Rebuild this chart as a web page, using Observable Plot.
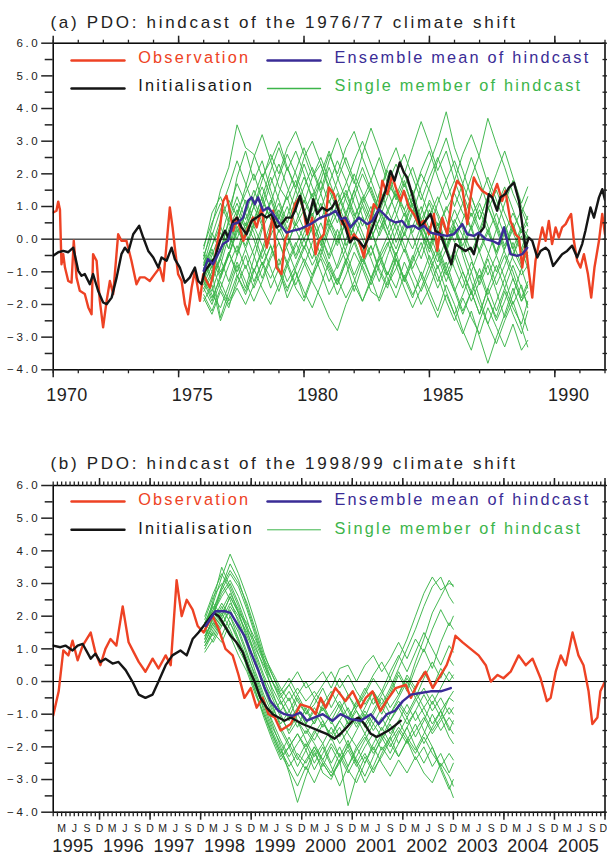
<!DOCTYPE html>
<html><head><meta charset="utf-8">
<script src="https://cdn.jsdelivr.net/npm/d3@7"></script>
<script src="https://cdn.jsdelivr.net/npm/@observablehq/plot@0.6"></script>
<style>
body{margin:0;background:#fff;}
#chart{width:607px;}
#chart svg{display:block;}
</style></head><body><div id="chart"></div>
<script>
// ---------------- DATA ----------------
const titleA = "(a) PDO: hindcast of the 1976/77 climate shift";
const titleB = "(b) PDO: hindcast of the 1998/99 climate shift";
const legendLabels = ["Observation", "Ensemble mean of hindcast", "Initialisation", "Single member of hindcast"];
const yMajor = [-4, -3, -2, -1, 0, 1, 2, 3, 4, 5, 6];
const yMinor = [-3.5, -2.5, -1.5, -0.5, 0.5, 1.5, 2.5, 3.5, 4.5, 5.5];
const yearsA = [1970,1971,1972,1973,1974,1975,1976,1977,1978,1979,1980,1981,1982,1983,1984,1985,1986,1987,1988,1989,1990,1991,1992];
const yearLabelsA = [1970, 1975, 1980, 1985, 1990];
const yearsB = [1995,1996,1997,1998,1999,2000,2001,2002,2003,2004,2005];
const monthLetters = ["M", "J", "S", "D"];
const monthLetterIdx = [2, 5, 8, 11];

// Panel (a): [decimal year, PDO index]
const obsA = [[1970.00,0.82],[1970.13,0.87],[1970.20,1.15],[1970.27,0.9],[1970.33,-0.77],[1970.40,-0.46],[1970.47,-0.87],[1970.60,-1.28],[1970.73,-1.33],[1970.82,-0.05],[1970.93,-1.17],[1971.06,-1.58],[1971.26,-1.68],[1971.40,-2.09],[1971.53,-2.3],[1971.59,-0.46],[1971.73,-0.66],[1971.86,-1.89],[1971.99,-2.7],[1972.13,-1.89],[1972.26,-1.28],[1972.39,-1.68],[1972.59,0.15],[1972.72,-0.05],[1972.92,-0.05],[1973.12,-0.66],[1973.32,-1.38],[1973.46,-1.17],[1973.65,-1.17],[1973.85,-1.28],[1974.05,-1.07],[1974.25,-0.87],[1974.39,-1.28],[1974.52,-0.15],[1974.65,0.97],[1974.76,0.36],[1974.85,-0.26],[1974.98,-1.07],[1975.12,-1.28],[1975.25,-1.99],[1975.38,-2.3],[1975.52,-1.48],[1975.65,-0.97],[1975.85,-1.89],[1975.98,-1.07],[1976.11,-1.28],[1976.25,-1.48],[1976.38,-1.07],[1976.51,-0.26],[1976.65,0.36],[1976.78,1.17],[1976.91,1.33],[1977.04,0.87],[1977.18,0.26],[1977.31,0.66],[1977.44,0.36],[1977.58,-0.05],[1977.78,0.36],[1977.97,0.66],[1978.11,0.36],[1978.31,0.97],[1978.51,-0.26],[1978.64,0.15],[1978.77,0.87],[1978.90,-0.87],[1979.10,-1.07],[1979.24,-0.05],[1979.44,0.36],[1979.64,1.07],[1979.84,1.3],[1979.99,0.87],[1980.13,0.15],[1980.33,0.66],[1980.46,-0.46],[1980.59,-0.05],[1980.79,0.15],[1980.99,1.58],[1981.19,1.38],[1981.39,0.87],[1981.52,0.46],[1981.65,0.66],[1981.85,-0.05],[1981.99,0.15],[1982.19,-0.05],[1982.39,-0.56],[1982.58,0.36],[1982.78,1.07],[1982.98,0.87],[1983.12,1.79],[1983.32,1.38],[1983.51,1.95],[1983.65,1.6],[1983.85,1.17],[1983.98,1.48],[1984.18,0.97],[1984.38,0.77],[1984.58,0.46],[1984.78,0.56],[1984.98,0.15],[1985.18,0.77],[1985.31,-0.36],[1985.51,0.66],[1985.71,0.15],[1985.91,1.28],[1986.11,1.79],[1986.31,1.58],[1986.51,0.46],[1986.64,1.28],[1986.77,1.89],[1986.90,1.69],[1987.10,1.48],[1987.30,1.38],[1987.50,1.28],[1987.70,1.69],[1987.90,1.17],[1988.03,1.48],[1988.23,0.56],[1988.43,0.15],[1988.57,0.05],[1988.70,-0.87],[1988.83,-0.15],[1988.96,-0.97],[1989.10,-1.79],[1989.23,-0.66],[1989.36,-0.15],[1989.50,0.36],[1989.63,-0.05],[1989.76,0.56],[1989.89,-0.15],[1990.03,0.36],[1990.16,0.05],[1990.29,0.36],[1990.43,0.46],[1990.56,0.66],[1990.65,0.77],[1990.76,-0.05],[1990.89,-0.66],[1991.02,-0.87],[1991.16,-0.46],[1991.32,-1.07],[1991.45,-1.79],[1991.58,-0.87],[1991.76,-0.05],[1991.89,0.77],[1992.0,0.15]];
const initA = [[1970.00,-0.51],[1970.20,-0.4],[1970.40,-0.36],[1970.60,-0.4],[1970.80,-0.26],[1971.00,-0.97],[1971.13,-1.12],[1971.26,-1.07],[1971.46,-1.38],[1971.59,-1.07],[1971.79,-1.58],[1971.99,-1.94],[1972.13,-1.99],[1972.33,-1.79],[1972.53,-1.17],[1972.72,-0.46],[1972.86,-0.26],[1972.99,-0.4],[1973.19,0.15],[1973.43,0.41],[1973.59,0.05],[1973.79,-0.36],[1973.99,-0.56],[1974.19,-0.87],[1974.32,-0.56],[1974.52,-0.66],[1974.72,-0.26],[1974.85,-0.61],[1975.05,-0.87],[1975.25,-1.33],[1975.45,-1.17],[1975.65,-0.87],[1975.78,-1.28],[1975.91,-1.38],[1976.05,-0.97],[1976.25,-0.77],[1976.45,-0.56],[1976.65,-0.05],[1976.85,0.26],[1976.98,0.05],[1977.18,0.56],[1977.34,0.66],[1977.51,0.36],[1977.71,0.15],[1977.91,0.56],[1978.11,0.66],[1978.31,0.77],[1978.51,0.66],[1978.71,0.77],[1978.90,0.36],[1979.10,0.46],[1979.30,0.66],[1979.50,0.66],[1979.64,0.87],[1979.84,1.33],[1979.99,0.87],[1980.13,0.46],[1980.37,1.22],[1980.52,0.77],[1980.72,0.97],[1980.92,0.87],[1981.12,0.97],[1981.26,1.17],[1981.46,0.66],[1981.65,0.36],[1981.83,-0.1],[1981.99,0.05],[1982.19,-0.05],[1982.39,-0.26],[1982.58,0.05],[1982.78,0.46],[1983.05,1.07],[1983.25,1.48],[1983.45,2.09],[1983.61,1.79],[1983.82,2.35],[1983.98,2.04],[1984.11,1.89],[1984.31,1.38],[1984.51,0.77],[1984.65,0.36],[1984.84,0.56],[1985.04,0.77],[1985.24,0.26],[1985.44,0.15],[1985.64,-0.26],[1985.87,-0.77],[1986.04,-0.15],[1986.24,-0.26],[1986.44,-0.36],[1986.64,-0.26],[1986.77,-0.46],[1986.97,0.15],[1987.17,0.36],[1987.37,1.38],[1987.50,1.28],[1987.70,0.87],[1987.83,1.28],[1988.03,1.38],[1988.17,1.58],[1988.37,1.73],[1988.57,1.17],[1988.70,0.46],[1988.83,-0.26],[1988.96,0.05],[1989.10,-0.05],[1989.30,-0.56],[1989.43,-0.36],[1989.63,-0.26],[1989.76,-0.36],[1989.93,-0.82],[1990.09,-0.66],[1990.29,-0.46],[1990.49,-0.36],[1990.69,-0.2],[1990.89,-0.56],[1991.09,-0.15],[1991.22,0.26],[1991.42,0.97],[1991.56,0.66],[1991.76,1.28],[1991.89,1.53],[1992.0,1.2]];
const meanA = [[1976.00,-0.97],[1976.17,-0.61],[1976.37,-0.77],[1976.57,-0.46],[1976.77,-0.15],[1976.97,-0.05],[1977.17,0.46],[1977.37,0.51],[1977.57,0.66],[1977.77,1.17],[1977.91,1.28],[1978.04,1.07],[1978.17,1.28],[1978.37,0.87],[1978.57,0.97],[1978.77,0.77],[1979.04,0.46],[1979.30,0.2],[1979.57,0.26],[1979.84,0.31],[1980.26,0.46],[1980.66,0.66],[1981.06,0.77],[1981.26,0.87],[1981.46,0.61],[1981.65,0.66],[1981.85,0.36],[1982.19,0.66],[1982.52,0.46],[1982.72,0.56],[1982.98,0.92],[1983.18,0.77],[1983.38,0.61],[1983.65,0.51],[1983.91,0.56],[1984.11,0.36],[1984.38,0.41],[1984.58,0.31],[1984.78,0.41],[1985.04,0.2],[1985.31,0.15],[1985.71,0.1],[1985.97,0.15],[1986.31,0.46],[1986.51,0.15],[1986.77,0.1],[1986.97,0.2],[1987.24,0.0],[1987.50,-0.05],[1987.77,-0.15],[1987.97,0.36],[1988.23,-0.46],[1988.50,-0.51],[1988.70,-0.46],[1988.90,-0.26]];
const memberTimesA = [1976.0,1976.33,1976.67,1977.0,1977.33,1977.67,1978.0,1978.33,1978.67,1979.0,1979.33,1979.67,1980.0,1980.33,1980.67,1981.0,1981.33,1981.67,1982.0,1982.33,1982.67,1983.0,1983.33,1983.67,1984.0,1984.33,1984.67,1985.0,1985.33,1985.67,1986.0,1986.33,1986.67,1987.0,1987.33,1987.67,1988.0,1988.33,1988.67,1988.92];
const membersA = [
 [-0.6,0.4,1.5,2.2,3.5,2.8,2.6,1.9,2.4,1.6,1.2,1.8,1.1,1.9,2.3,1.6,1.0,1.4,0.7,1.2,1.8,2.5,1.7,1.3,0.9,1.5,0.6,1.1,0.4,0.9,1.4,0.8,0.3,0.9,0.2,-0.4,0.3,-0.6,-1.1,-0.8],
 [-1.8,-2.3,-1.6,-2.1,-1.2,-0.5,-1.3,-0.7,-1.5,-0.9,-1.8,-1.2,-0.6,-1.1,-0.3,-0.9,-1.4,-0.7,-1.6,-0.8,-0.2,-1.0,-1.5,-0.6,-1.2,-1.8,-1.0,-1.6,-2.2,-1.4,-2.0,-2.8,-3.4,-2.5,-1.8,-2.4,-1.6,-2.3,-2.9,-2.2],
 [-1.2,-0.5,0.2,-0.3,0.8,1.4,2.0,1.2,0.6,1.1,0.3,0.9,1.6,2.2,1.5,2.4,3.1,2.3,1.7,2.6,3.4,2.7,1.9,1.2,1.8,1.0,0.4,1.2,0.7,-0.2,0.5,1.1,0.3,-0.4,0.2,0.8,0.1,-0.5,0.3,0.0],
 [-0.3,0.8,1.3,0.6,1.9,2.7,1.8,2.4,1.5,0.7,1.3,0.4,0.9,0.2,-0.5,0.3,0.8,-0.2,0.4,1.1,0.5,1.4,2.1,1.3,2.0,2.8,3.6,2.9,2.1,2.7,1.8,1.1,1.9,2.6,3.7,2.9,2.2,1.4,0.8,1.3],
 [-1.0,-1.6,-0.8,0.1,-0.4,0.5,0.0,-0.8,-0.2,-1.0,-1.6,-0.9,-0.3,0.4,-0.2,0.6,0.1,-0.7,0.2,-0.4,0.3,-0.5,-1.1,-0.4,-1.3,-0.6,0.2,-0.3,0.5,-0.2,-0.9,-1.5,-0.7,-1.2,-0.5,0.3,-0.4,-1.0,-1.8,-1.3],
 [-1.5,-1.0,-2.4,-1.6,-0.8,-1.5,-0.6,0.3,0.9,0.2,0.7,1.5,0.8,1.4,0.6,1.2,0.5,1.3,2.0,1.4,0.8,0.1,0.7,-0.1,0.5,1.2,0.6,-0.2,-0.9,-0.3,0.4,-0.5,-1.3,-2.0,-2.6,-1.9,-1.2,-2.0,-1.4,-2.1],
 [-0.8,-0.2,0.6,1.2,0.7,1.6,2.5,3.2,2.4,3.0,2.2,1.5,2.3,1.6,0.9,1.7,2.4,1.8,1.1,0.4,1.0,0.3,0.8,1.5,0.9,0.2,0.8,1.6,2.4,3.1,2.2,1.4,0.7,1.2,1.9,1.2,0.5,-0.3,0.4,0.1],
 [-1.3,-1.9,-1.1,-0.4,-1.0,-0.3,0.4,-0.2,-0.9,-1.6,-0.8,-1.5,-1.9,-1.2,-0.5,-1.0,-1.7,-1.1,-0.4,-0.9,-1.6,-1.8,-1.0,-1.5,-0.7,-1.3,-2.0,-1.5,-0.8,-1.6,-2.3,-1.7,-1.0,-1.8,-2.6,-3.2,-2.5,-1.9,-2.7,-3.3],
 [-0.9,-0.3,-1.0,-0.5,0.3,-0.2,0.5,1.3,0.6,1.4,2.2,1.6,2.5,3.0,2.3,1.5,0.9,1.5,0.8,0.2,-0.5,0.2,0.9,0.3,-0.4,0.4,1.0,0.3,1.1,1.8,1.0,1.7,2.5,1.8,1.0,0.3,1.1,1.8,1.0,0.6],
 [-1.6,-1.1,-0.6,-1.3,-0.5,0.2,-0.5,-1.2,-0.5,0.3,-0.3,-1.0,-1.8,-1.1,-0.6,-1.3,-0.8,0.0,0.6,0.0,-0.6,-1.3,-0.5,0.2,0.8,0.1,-0.6,0.2,-0.5,-1.3,-0.6,0.1,-0.6,-1.4,-0.8,-1.6,-2.4,-1.7,-0.9,-1.5],
 [-0.5,0.2,-0.4,0.6,1.3,0.6,1.2,0.5,1.1,1.9,2.6,2.0,1.3,0.7,1.4,0.6,-0.1,0.5,1.3,2.0,1.4,0.8,0.1,0.7,1.5,0.8,1.6,2.3,3.0,3.9,2.8,2.1,1.3,0.6,1.3,2.0,2.7,1.9,1.1,1.6],
 [-1.1,-1.7,-2.1,-1.4,-0.7,-1.3,-1.9,-1.3,-0.6,-0.1,-0.8,-0.2,0.4,-0.3,-1.0,-1.7,-1.2,-1.8,-1.3,-0.6,-1.2,-0.5,0.1,-0.6,-1.2,-0.5,-1.1,-1.8,-2.4,-1.7,-2.3,-2.9,-2.2,-3.0,-3.8,-3.0,-2.3,-1.5,-2.2,-2.8],
 [-0.7,-1.3,-0.6,0.3,0.9,0.3,1.0,1.6,0.9,0.4,1.0,0.3,-0.3,0.4,1.1,0.4,1.1,0.5,0.0,0.7,0.0,0.6,0.1,-0.5,0.2,-0.3,0.4,-0.1,-0.7,0.0,0.6,0.1,0.8,0.2,-0.4,-1.0,-0.3,0.4,-0.3,-0.9],
 [-1.4,-0.8,-1.5,-2.0,-1.5,-2.0,-1.4,-0.7,-1.2,-0.6,-1.3,-0.8,-0.2,-0.8,-0.3,0.4,-0.2,0.6,0.0,-0.7,-0.2,-0.9,-1.4,-0.9,-0.3,-1.0,-1.6,-1.0,-0.4,-1.1,-0.5,-1.2,-1.9,-1.3,-0.6,-1.4,-0.8,-0.1,-0.8,-0.4],
 [-0.2,0.5,1.1,0.5,0.0,0.8,1.5,0.9,1.7,2.3,1.6,0.9,0.3,0.9,1.8,2.6,2.0,2.8,3.3,2.5,1.8,1.1,1.7,2.3,1.6,2.2,1.4,0.7,1.3,0.6,-0.1,0.6,1.3,0.6,1.3,0.5,-0.2,0.5,-0.3,0.3],
 [-1.9,-1.4,-2.5,-1.8,-1.1,-1.6,-0.9,-1.5,-2.0,-1.4,-0.7,-0.1,-0.7,-1.3,-1.8,-2.4,-2.8,-2.0,-1.4,-1.9,-1.2,-0.6,-1.2,-1.8,-1.1,-1.7,-1.2,-0.5,-1.1,-1.9,-2.5,-1.8,-2.4,-2.9,-2.1,-2.7,-3.3,-2.6,-3.4,-3.1],
 [-0.4,-0.9,0.0,0.9,1.7,1.1,0.4,1.1,1.9,1.2,0.5,1.2,1.9,1.3,2.0,2.7,1.9,1.2,0.6,1.3,0.6,1.4,2.2,2.8,2.0,1.3,2.1,2.7,1.9,1.2,1.8,2.6,3.2,2.5,1.7,1.0,1.6,0.9,0.2,0.7],
 [-1.0,-0.4,-1.1,-0.5,0.4,-0.3,-1.0,-0.4,0.3,0.9,0.2,-0.5,0.2,0.8,0.1,-0.6,0.0,0.8,0.2,-0.4,0.4,1.0,0.3,-0.3,0.4,1.1,0.5,-0.2,0.5,-0.3,0.4,-0.3,-1.0,-0.3,0.3,-0.5,-1.2,-0.5,0.1,-0.5],
 [-0.6,-1.2,-0.5,0.2,-0.5,0.3,1.0,0.4,1.2,0.5,-0.2,0.5,1.2,0.6,-0.1,0.7,1.4,0.7,1.5,2.2,1.5,0.8,1.5,0.8,0.1,0.8,0.2,0.9,0.3,-0.4,0.3,-0.4,0.4,1.1,0.4,-0.4,0.4,-0.3,-0.9,-0.2],
 [-1.7,-2.2,-1.5,-0.8,-0.2,-0.9,-0.3,0.4,-0.2,-0.8,-0.2,0.5,0.0,-0.6,0.1,-0.5,0.3,-0.4,-1.1,-0.5,-1.2,-1.9,-1.3,-0.6,-1.3,-0.7,-0.1,-0.8,-1.5,-0.9,-1.6,-2.3,-1.6,-2.3,-1.5,-2.2,-1.5,-0.8,-1.5,-2.0],
 [-0.8,0.1,0.9,1.6,2.4,1.7,1.0,1.8,2.6,2.0,2.8,3.3,2.6,1.9,2.5,1.8,1.1,1.7,2.4,3.0,2.3,1.6,0.9,1.4,0.7,1.3,2.0,1.5,0.8,0.2,0.9,0.3,-0.4,0.2,0.9,1.5,0.8,0.2,-0.4,0.1],
 [-1.3,-0.6,-1.2,-0.4,-1.1,-1.7,-1.0,-0.3,0.5,-0.1,-0.7,-1.4,-0.8,-0.1,0.5,-0.2,-0.9,-0.3,0.4,1.0,0.3,-0.4,-1.1,-0.5,0.2,0.9,0.2,-0.6,-1.3,-0.7,-1.5,-2.2,-1.6,-0.9,-1.7,-1.1,-0.5,-1.2,-1.9,-1.4],
 [-0.5,-1.0,-0.3,0.5,1.1,0.4,1.3,2.0,1.3,0.6,1.4,2.1,2.8,2.1,1.4,2.2,1.5,0.8,1.5,0.7,0.0,0.6,1.3,2.0,2.6,1.9,1.2,1.9,2.5,1.8,2.4,1.7,1.0,0.3,1.0,0.4,-0.3,0.3,0.9,0.4],
 [-1.2,-1.8,-1.2,-0.5,0.2,0.8,0.2,-0.6,0.1,0.7,0.1,-0.6,0.0,0.6,-0.1,-0.8,-1.4,-0.7,-0.1,-0.8,-1.4,-0.8,-0.2,0.5,-0.2,-0.9,-0.3,0.4,-0.3,-1.0,-1.6,-1.0,-1.6,-2.3,-1.5,-0.8,-1.5,-2.1,-2.6,-1.9],
 [-0.9,-0.2,0.4,-0.3,0.5,1.2,0.6,1.3,2.1,2.8,2.1,2.7,2.0,1.2,1.8,1.1,1.8,2.5,1.8,1.1,1.6,0.9,0.3,1.0,1.7,1.0,0.3,-0.4,0.3,1.0,0.4,-0.2,0.4,-0.4,-1.1,-0.5,0.2,0.8,0.2,0.5],
 [-1.5,-2.0,-1.3,-1.9,-1.4,-0.8,-1.5,-0.9,-0.2,-0.9,-1.5,-1.0,-1.6,-2.1,-1.4,-0.7,-1.3,-0.6,-1.2,-1.9,-1.3,-0.6,-0.1,-0.8,-1.5,-2.1,-1.5,-0.8,-0.2,-0.9,-0.3,-1.0,-1.7,-1.1,-1.8,-2.5,-1.9,-1.2,-1.9,-1.6]
];

// Panel (b): [month index (0 = Jan 1995), PDO index]
const obsB = [[0,-1.04],[1.3,-0.3],[2.4,0.95],[3.6,0.8],[4.6,1.25],[5.8,0.65],[7.0,1.1],[8.9,1.5],[10.0,0.9],[11.2,0.5],[12.4,1.0],[13.6,1.3],[15.0,1.1],[16.5,2.3],[17.9,1.2],[19.1,0.9],[20.3,0.6],[21.9,0.3],[23.6,0.7],[25.0,0.4],[26.7,0.8],[27.9,0.5],[29.3,3.1],[30.5,2.0],[31.7,2.5],[33.1,2.2],[34.3,1.7],[35.7,1.5],[36.9,1.8],[37.9,2.0],[39.3,1.6],[40.9,1.0],[42.6,0.8],[44.0,0.2],[45.4,-0.5],[46.9,-0.2],[48.3,-0.8],[49.7,-0.5],[51.1,-1.0],[52.6,-1.1],[54.0,-1.5],[56.4,-1.3],[58.7,-0.7],[61.1,-0.8],[62.3,-1.0],[63.5,-0.5],[64.7,-0.8],[67.0,-0.2],[69.4,-0.6],[71.1,-0.3],[73.0,-0.8],[74.2,-0.5],[75.8,-0.3],[77.7,-0.9],[79.1,-0.6],[81.3,-0.2],[83.7,-0.1],[84.9,-0.5],[86.8,0.0],[88.4,0.3],[90.1,-0.2],[92.0,0.2],[93.4,0.5],[94.8,1.0],[95.5,1.4],[97.2,1.2],[99.1,1.0],[101.0,0.8],[102.7,0.5],[103.9,0.0],[105.5,0.2],[106.9,0.1],[108.6,0.3],[110.5,0.8],[112.2,0.5],[113.8,0.7],[115.7,0.1],[117.2,-0.6],[118.1,-0.5],[119.3,0.3],[120.5,0.8],[121.7,0.5],[123.3,1.5],[124.7,0.8],[125.9,0.5],[127.1,-0.3],[128.0,-1.3],[129.2,-1.1],[129.9,-0.3],[131,0.0]];
const initB = [[0,1.1],[1.7,1.05],[2.9,1.1],[4.6,0.95],[5.8,1.1],[7.0,1.15],[8.9,0.7],[10.0,0.85],[11.2,0.6],[12.4,0.7],[14.1,0.55],[15.5,0.6],[17.2,0.35],[18.8,0.0],[20.3,-0.4],[21.9,-0.5],[23.6,-0.4],[25.0,0.0],[26.7,0.5],[28.3,0.8],[30.2,0.95],[31.7,0.8],[33.1,1.3],[34.5,1.5],[35.7,1.7],[36.9,1.9],[38.1,2.1],[39.3,2.0],[40.7,1.7],[42.1,1.4],[43.5,1.2],[45.0,0.9],[46.4,0.4],[47.8,0.0],[49.2,-0.5],[50.7,-0.8],[52.1,-1.0],[53.5,-1.1],[54.9,-1.2],[56.4,-1.1],[57.8,-1.2],[59.2,-1.3],[61.1,-1.4],[63.0,-1.5],[64.9,-1.6],[66.8,-1.75],[68.2,-1.6],[69.7,-1.4],[71.1,-1.2],[72.5,-1.1],[73.9,-1.3],[75.4,-1.6],[76.8,-1.7],[78.2,-1.6],[79.6,-1.5],[81.1,-1.35],[82.5,-1.2]];
const meanB = [[36.2,1.7],[38.5,2.15],[40.9,2.15],[42.1,2.1],[43.5,1.8],[45.4,1.4],[46.9,0.9],[48.8,0.3],[50.2,-0.2],[51.6,-0.6],[53.5,-0.9],[54.9,-1.0],[56.8,-1.05],[58.7,-0.95],[60.2,-1.2],[62.1,-1.1],[64.0,-1.0],[66.3,-1.2],[68.2,-1.0],[70.6,-1.15],[73.0,-1.2],[75.4,-1.0],[77.3,-1.3],[79.2,-1.0],[81.1,-0.9],[83.0,-0.6],[84.9,-0.4],[87.2,-0.35],[89.6,-0.3],[92.0,-0.3],[94.4,-0.2]];
const memberTimesB = [36,38,40,42,44,46,48,50,52,54,56,58,60,62,64,66,68,70,72,74,76,78,80,82,84,86,88,90,92,94,95];
const membersB = [
 [1.5,2.4,3.2,3.9,3.3,2.6,1.8,0.9,0.2,-0.4,-0.1,-0.6,-1.0,-0.5,-0.9,-0.4,0.1,-0.4,-0.8,-0.3,0.2,0.6,0.1,0.7,1.3,2.0,2.7,3.2,2.8,3.0,2.95],
 [1.8,2.2,2.8,3.3,2.9,2.2,1.4,0.6,-0.3,-1.0,-1.6,-1.2,-1.8,-2.3,-1.9,-2.5,-2.0,-2.6,-2.1,-1.7,-2.2,-1.8,-1.3,-1.9,-1.4,-0.9,-1.5,-2.0,-2.6,-3.2,-3.55],
 [1.2,1.8,1.4,2.0,1.5,0.8,0.2,-0.5,-1.3,-2.0,-2.8,-3.7,-2.9,-2.2,-2.6,-2.0,-2.5,-1.9,-2.4,-2.9,-2.3,-1.7,-2.2,-1.6,-1.1,-1.7,-1.2,-0.6,-1.1,-0.5,-0.3],
 [1.6,2.5,3.5,2.9,2.3,1.6,0.7,-0.1,-0.8,-1.3,-0.9,-1.4,-0.8,-1.3,-0.7,-1.2,-1.7,-1.2,-0.6,-1.1,-0.5,-1.0,-0.4,0.2,-0.3,0.4,1.0,0.4,1.2,1.8,1.6],
 [1.4,1.9,2.4,2.0,1.3,0.4,-0.3,-1.0,-1.6,-2.2,-1.7,-2.3,-2.7,-2.1,-2.8,-3.0,-2.4,-3.8,-2.9,-2.3,-2.8,-2.2,-1.7,-2.3,-1.8,-1.3,-1.9,-1.4,-0.9,-1.5,-1.2],
 [1.9,2.6,3.0,2.5,1.8,1.1,0.3,-0.4,-1.0,-0.6,-1.1,-0.5,-1.0,-0.7,-0.2,-0.8,-0.3,-0.9,-1.4,-0.9,-1.3,-0.8,-0.3,0.3,-0.2,0.6,1.3,2.1,2.6,3.1,2.9],
 [1.1,1.6,2.1,1.6,1.0,0.5,-0.3,-1.1,-1.8,-2.4,-2.0,-2.6,-2.1,-2.7,-2.2,-1.7,-2.3,-1.8,-2.5,-3.1,-2.6,-2.0,-2.4,-1.9,-1.4,-2.0,-2.5,-2.0,-2.7,-3.3,-3.0],
 [1.7,2.1,2.7,3.1,2.6,1.9,1.1,0.4,-0.2,-0.7,-0.3,-0.8,-1.3,-0.9,-1.4,-1.0,-0.6,-1.1,-0.7,-0.2,-0.7,-0.3,-0.8,-0.4,0.2,-0.2,0.3,-0.2,0.4,0.0,0.2],
 [1.3,2.0,1.7,2.3,1.9,1.2,0.6,-0.2,-0.9,-1.5,-2.0,-1.6,-2.1,-1.6,-1.2,-1.8,-1.4,-2.0,-1.5,-1.0,-1.5,-1.1,-1.6,-1.2,-0.7,-1.2,-0.8,-1.3,-0.9,-1.4,-1.6],
 [1.8,2.3,1.9,2.4,2.0,1.5,0.9,0.2,-0.4,-0.9,-0.5,-1.2,-1.6,-1.2,-0.8,-1.3,-0.9,-0.4,-0.9,-1.3,-0.9,-0.4,0.1,-0.4,0.1,-0.3,-0.8,-0.4,-0.9,-0.5,-0.6],
 [1.0,1.5,2.0,2.6,2.1,1.4,0.8,0.1,-0.7,-1.4,-1.9,-2.4,-1.9,-2.5,-2.0,-2.6,-3.2,-2.6,-2.0,-2.5,-1.9,-1.4,-1.9,-2.3,-1.8,-2.4,-2.0,-2.6,-2.2,-2.8,-2.5],
 [1.5,2.1,2.6,3.0,2.4,1.7,1.0,0.5,0.0,-0.5,-0.1,0.3,-0.2,0.0,0.3,-0.2,0.4,0.5,0.0,0.5,0.8,0.3,0.7,1.2,0.7,1.3,0.9,1.6,2.2,1.7,2.0],
 [1.6,1.4,1.9,1.5,1.1,0.6,-0.2,-0.8,-1.5,-2.1,-2.6,-2.2,-2.5,-2.0,-2.4,-1.9,-2.3,-2.8,-2.3,-1.8,-1.3,-1.7,-1.2,-0.8,-1.3,-0.9,-0.4,-0.9,-0.5,-1.0,-0.8],
 [2.0,2.7,3.3,2.8,2.1,1.3,0.5,0.0,-0.5,-1.1,-1.5,-1.0,-1.4,-1.8,-1.3,-1.6,-1.2,-1.6,-2.0,-1.6,-1.1,-1.5,-1.0,-0.6,-1.0,-0.5,-1.0,-1.5,-1.1,-1.7,-1.9],
 [1.2,1.7,2.2,2.7,2.2,1.6,1.2,0.6,0.0,-0.4,-0.9,-0.4,-0.9,-1.3,-0.8,-1.2,-0.7,-1.3,-0.9,-1.4,-1.0,-0.5,-1.0,-0.5,0.0,-0.5,0.1,0.6,0.1,0.7,0.5],
 [1.4,1.8,2.3,1.8,1.2,0.5,0.0,-0.7,-1.4,-1.9,-2.4,-2.9,-2.4,-2.0,-2.5,-2.9,-2.5,-2.1,-2.6,-2.2,-2.7,-2.3,-1.8,-1.4,-1.8,-2.2,-1.7,-2.2,-2.6,-2.2,-2.4],
 [1.7,2.2,2.9,3.4,3.0,2.4,1.6,0.8,0.3,-0.2,-0.6,-0.2,-0.6,-0.3,-0.7,-0.3,-0.8,-1.3,-0.8,-0.4,0.1,-0.3,0.3,0.8,0.3,0.9,1.5,1.0,0.5,1.1,0.9],
 [0.9,1.3,1.8,1.4,0.8,0.3,-0.4,-1.0,-1.7,-2.3,-2.0,-1.6,-2.0,-1.5,-1.9,-1.4,-1.9,-1.5,-1.1,-1.6,-2.1,-1.6,-2.0,-1.5,-1.9,-1.5,-1.1,-1.6,-1.2,-0.8,-1.0],
 [1.3,2.0,2.9,3.6,3.1,2.3,1.5,0.7,0.0,-0.6,-1.2,-0.8,-1.3,-0.8,-1.2,-1.7,-1.2,-0.8,-1.3,-0.8,-0.3,-0.7,-0.2,0.4,1.0,1.6,2.3,2.9,3.2,2.6,2.4],
 [1.6,1.2,1.7,2.2,1.6,0.9,0.1,-0.6,-1.2,-1.8,-2.3,-1.9,-1.5,-1.9,-2.4,-2.8,-2.2,-2.7,-3.1,-2.5,-2.0,-2.5,-2.9,-2.4,-2.8,-2.3,-2.8,-3.1,-2.5,-2.9,-3.2],
 [1.8,2.4,2.0,2.6,2.1,1.8,1.3,0.7,0.2,-0.3,0.1,-0.4,0.0,-0.5,-0.1,0.3,-0.2,0.2,-0.3,-0.7,-0.3,-0.8,-1.2,-0.7,-1.1,-0.6,-0.2,-0.7,-0.2,0.3,0.1],
 [1.1,1.5,1.2,1.8,1.3,0.7,0.0,-0.9,-1.6,-2.2,-2.7,-3.2,-2.6,-3.1,-2.5,-2.9,-2.4,-2.0,-2.5,-2.0,-1.6,-2.1,-1.7,-1.2,-1.7,-2.1,-1.6,-1.0,-1.5,-1.1,-1.3]
];

// ---------------- STYLE ----------------
const RED = "#ee4224", BLUE = "#3a2c96", GREEN = "#3cb54a", BLACK = "#151515", TXT = "#222";
const FONT = '"Liberation Sans", Arial, Helvetica, sans-serif';
const SPACING = {"17": "2.7px", "16.3": "2.2px", "11.5": "2.6px", "18": "0.3px", "10.5": "0px"};
const hline = {draw(ctx, l) { ctx.moveTo(0, 0); ctx.lineTo(0, -l); }};

const toRows = arr => arr.map(([t, v]) => ({t, v}));
const memberRows = (times, members) =>
  members.flatMap((vals, k) => vals.map((v, i) => ({t: times[i], v, k}))).filter(d => d.t != null);

function legendMarks(L) {
  const colors = [RED, BLUE, BLACK, GREEN];
  const widths = [2.4, 2.4, 2.4, L.greenW];
  const out = [];
  legendLabels.forEach((label, i) => {
    const col = i % 2, row = Math.floor(i / 2);
    out.push(Plot.vector([0], {frameAnchor: "top-left", dx: col ? 214.3 : 18.3, dy: L.line[row],
      length: 53, rotate: 90, anchor: "start", shape: hline, stroke: colors[i], strokeWidth: widths[i]}));
    out.push(Plot.text([label], {frameAnchor: "top-left", dx: col ? 281.3 : 85, dy: L.text[row],
      text: d => d, fill: colors[i], fontSize: 16.3, textAnchor: "start", lineAnchor: "middle"}));
  });
  return out;
}

function panel(o) {
  const marks = [
    Plot.line(memberRows(o.memberTimes, o.members), {x: "t", y: "v", z: "k", stroke: GREEN, strokeWidth: 0.95, clip: true}),
    Plot.ruleY([0], {stroke: "#000", strokeWidth: 1}),
    Plot.line(toRows(o.obs), {x: "t", y: "v", stroke: RED, strokeWidth: 2.4, clip: true}),
    Plot.line(toRows(o.init), {x: "t", y: "v", stroke: BLACK, strokeWidth: 2.4, clip: true}),
    Plot.line(toRows(o.mean), {x: "t", y: "v", stroke: BLUE, strokeWidth: 2.4, clip: true}),
    Plot.frame({stroke: "#000", strokeWidth: 1.5}),
    Plot.axisY(yMajor, {anchor: "left", tickSize: 11.5, tickPadding: 1.5, tickFormat: d3.format(".1f"), fontSize: 11.5, fill: TXT, strokeWidth: 1.5, label: null}),
    Plot.axisY(yMinor, {anchor: "left", tickSize: 8, tickFormat: () => "", strokeWidth: 1.5, label: null}),
    Plot.axisY(yMajor.concat(yMinor), {anchor: "right", tickSize: 6, dx: -3, tickFormat: () => "", strokeWidth: 1.3, label: null}),
    Plot.axisX(o.xMinor, {anchor: "bottom", tickSize: o.minorLen, tickFormat: () => "", strokeWidth: 1.3, label: null}),
    Plot.axisX(o.xMajor, {anchor: "bottom", tickSize: 8, tickFormat: () => "", strokeWidth: 1.5, label: null}),
    Plot.axisX(o.xMinor, {anchor: "top", tickSize: o.minorLen, tickFormat: () => "", strokeWidth: 1.3, label: null}),
    Plot.axisX(o.xMajor, {anchor: "top", tickSize: 8, tickFormat: () => "", strokeWidth: 1.5, label: null}),
    ...o.labels,
    Plot.text([o.title], {frameAnchor: "top-left", dx: -2.7, dy: o.titleDy, text: d => d, fontSize: 17, fill: TXT, textAnchor: "start", lineAnchor: "middle"}),
    ...legendMarks(o.legend)
  ];
  const chart = Plot.plot({
    width: 607, height: o.height,
    marginLeft: 52.7, marginRight: 2.5, marginTop: o.mt, marginBottom: o.mb,
    x: {domain: o.xDomain, label: null},
    y: {domain: [-4, 6], label: null},
    style: {fontFamily: FONT, background: "#fff", color: TXT},
    marks
  });
  chart.querySelectorAll("[font-size]").forEach(el => {
    const s = SPACING[el.getAttribute("font-size")];
    if (s != null) el.setAttribute("letter-spacing", s);
  });
  return chart;
}

// panel (a)
const labelsA = [
  Plot.text(yearLabelsA, {x: d => d + 0.55, frameAnchor: "bottom", dy: 25.8, text: d => String(d), fontSize: 18, fill: TXT, lineAnchor: "middle"})
];
const chartA = panel({
  height: 430, mt: 42.7, mb: 60.7, xDomain: [1970, 1992],
  obs: obsA, init: initA, mean: meanA, memberTimes: memberTimesA, members: membersA,
  xMinor: yearsA, xMajor: yearLabelsA, minorLen: 4,
  labels: labelsA, title: titleA, titleDy: -20.5,
  legend: {line: [17.3, 45.3], text: [14.8, 42.3], greenW: 1.4}
});

// panel (b)
const monthRows = yearsB.flatMap((y, k) => monthLetters.map((L, j) => ({m: k * 12 + monthLetterIdx[j], L})));
const yearRowsB = yearsB.map((y, k) => ({m: k * 12 + 4.7, label: String(y)}));
const monthTicksB = yearsB.flatMap((y, k) => d3.range(12).map(j => k * 12 + j));
const decTicksB = yearsB.map((y, k) => k * 12 + 11);
const labelsB = [
  Plot.text(monthRows.slice(0, -1), {x: "m", text: "L", frameAnchor: "bottom", dy: 16.3, fontSize: 10.5, fill: TXT, lineAnchor: "middle"}),
  Plot.text(monthRows.slice(-1), {x: "m", text: "L", frameAnchor: "bottom", dy: 16.3, dx: 2, fontSize: 10.5, fill: TXT, textAnchor: "end", lineAnchor: "middle"}),
  Plot.text(yearRowsB, {x: "m", text: "label", frameAnchor: "bottom", dy: 34.3, fontSize: 18, fill: TXT, lineAnchor: "middle"})
];
const chartB = panel({
  height: 425, mt: 55, mb: 43.3, xDomain: [0, 131],
  obs: obsB, init: initB, mean: meanB, memberTimes: memberTimesB, members: membersB,
  xMinor: monthTicksB, xMajor: decTicksB, minorLen: 4.5,
  labels: labelsB, title: titleB, titleDy: -22.3,
  legend: {line: [16, 44.3], text: [14.2, 42.8], greenW: 1}
});

document.getElementById("chart").append(chartA, chartB);
</script></body></html>
